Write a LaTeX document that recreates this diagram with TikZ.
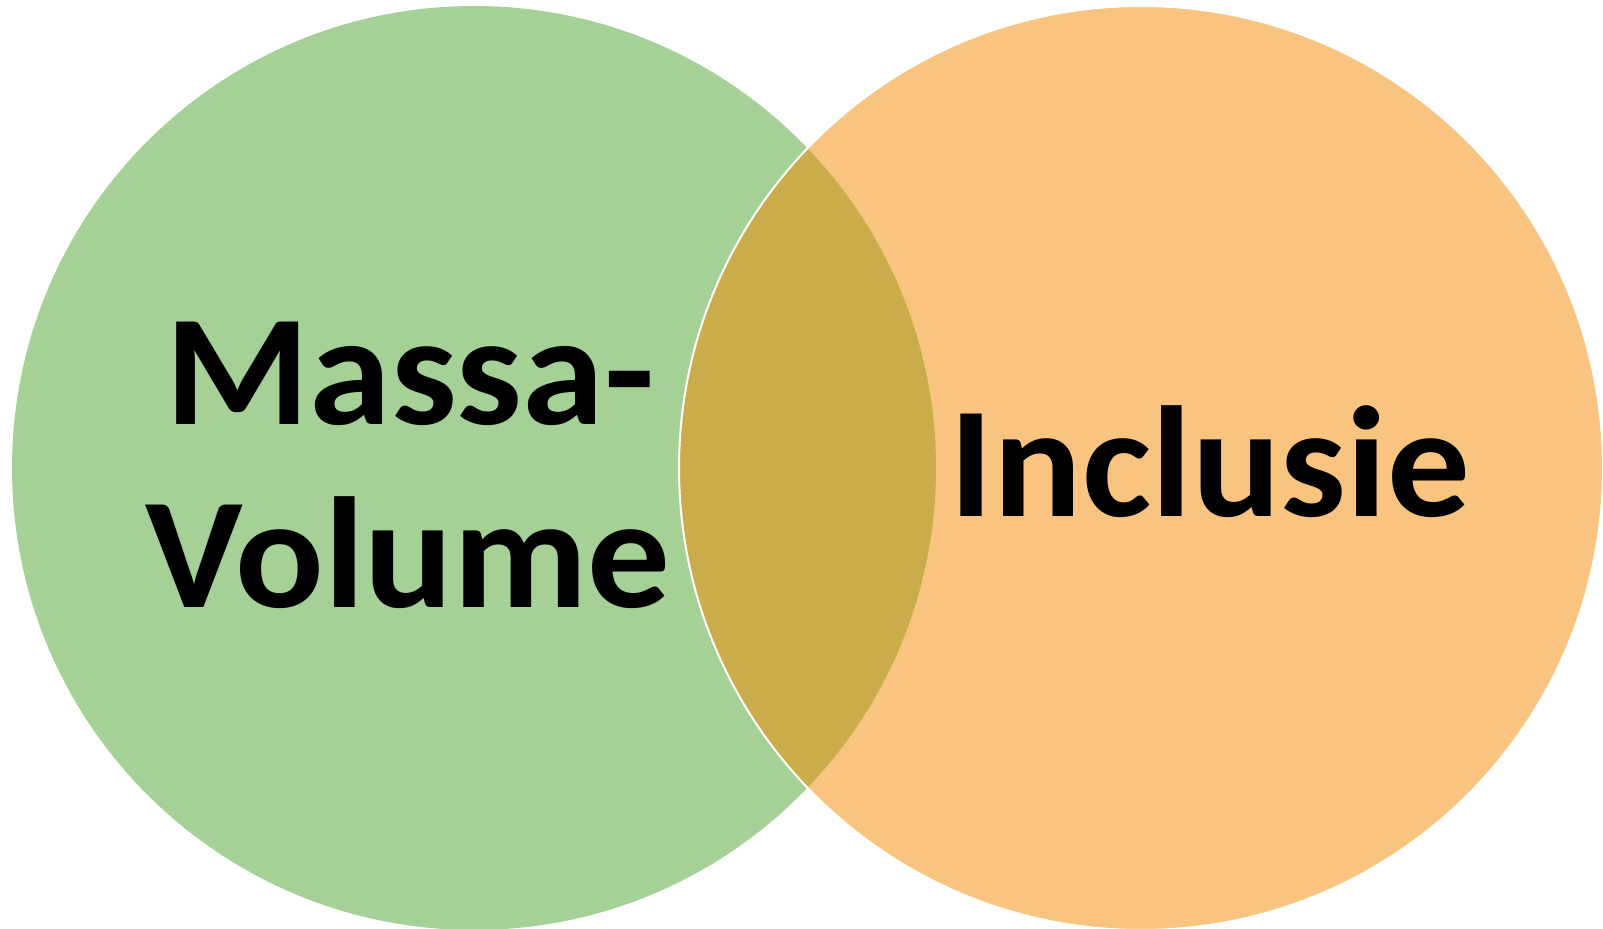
\documentclass[tikz,border=0pt]{standalone}
\usepackage{fontspec}
\setmainfont{Carlito}[FakeStretch=1.045]
\usepackage{xcolor}
\usetikzlibrary{positioning}
\definecolor{massagreen}{HTML}{A5D196}
\definecolor{inclorange}{HTML}{F8C480}
\definecolor{lensgold}{HTML}{CAAC4B}
\tikzset{
  label/.style={inner sep=0pt, anchor=base, font=\fontsize{79}{92}\selectfont\bfseries},
  rim/.style={draw=white, line width=1pt},
}

\begin{document}
\begin{tikzpicture}[x=0.5pt, y=-0.5pt]
    \useasboundingbox (0,0) rectangle (1603,929);
    \coordinate (lc) at (474,468);
    \coordinate (rc) at (1141,468);
    \fill[massagreen] (lc) circle[radius=462];
    \fill[inclorange] (rc) circle[radius=462];
    \begin{scope}
      \clip (lc) circle[radius=462];
      \fill[lensgold] (rc) circle[radius=462];
    \end{scope}
    \draw[rim] (rc) circle[radius=462];
    \node[label] (massa) at (410,425) {Massa-};
    \node[label] (volume) at (408,608) {Volume};
    \node[label] (inclusie) at (1210,517) {Inclusie};
  \end{tikzpicture}
\end{document}
